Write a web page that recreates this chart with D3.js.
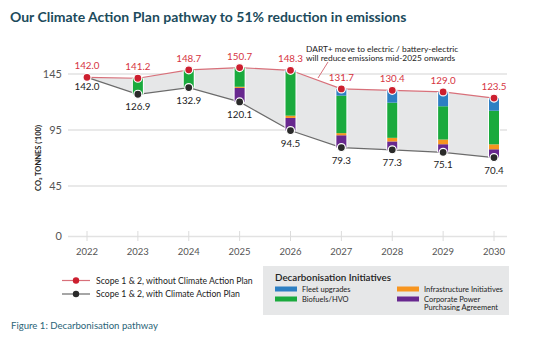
<!DOCTYPE html>
<html><head><meta charset="utf-8">
<script src="https://cdn.jsdelivr.net/npm/d3@7"></script>
<style>body{margin:0;background:#fff}svg{display:block}text{font-family:Lato, "Open Sans", sans-serif}</style>
</head><body>
<svg id="c" width="554" height="345"></svg>
<script>
const years = ["2022","2023","2024","2025","2026","2027","2028","2029","2030"];
const withoutPlan = [142.0,141.2,148.7,150.7,148.3,131.7,130.4,129.0,123.5];
const withPlan = [142.0,126.9,132.9,120.1,94.5,79.3,77.3,75.1,70.4];
// stacked segments from bottom (withPlan) up
const corporatePPA = [0,0,0,12.5,11.3,11.0,7.5,7.2,7.4];
const infrastructure = [0,0,0,1.0,2.0,1.9,3.2,4.2,4.4];
const biofuels = [0,14.3,15.8,17.1,39.0,33.5,31.4,29.7,30.0];
const fleet = [0,0,0,0,1.5,6.0,11.0,12.8,11.3];
const yTicks = [0,45,95,145];
const seriesNames = ["Corporate Power Purchasing Agreement","Infrastructure Initiatives","Biofuels/HVO","Fleet upgrades"];
const colors = {"Fleet upgrades":"#2d7fc3","Biofuels/HVO":"#1aaa3d","Infrastructure Initiatives":"#f7951f","Corporate Power Purchasing Agreement":"#68288f"};

const svg = d3.select("#c");
const x = d3.scalePoint().domain(years).range([87,494]);
const y = d3.scaleLinear().domain([0,145]).range([236.4,74]);

// title
svg.append("text").attr("x",10).attr("y",22).attr("font-size",14).attr("font-weight",700)
  .attr("fill","#1c4b5c").text("Our Climate Action Plan pathway to 51% reduction in emissions");

// gridlines
const g = svg.append("g");
g.selectAll("line.grid").data(yTicks).join("line")
  .attr("x1",68).attr("x2",507).attr("y1",d=>y(d)).attr("y2",d=>y(d))
  .attr("stroke","#e2e2e2").attr("stroke-width",1.5);
g.selectAll("text.yt").data(yTicks).join("text")
  .attr("x",62).attr("y",d=>y(d)+3.8).attr("text-anchor","end")
  .attr("font-size",11).attr("fill","#555").text(d=>d);
// x ticks
g.selectAll("line.xt").data(years).join("line")
  .attr("x1",d=>x(d)).attr("x2",d=>x(d)).attr("y1",231).attr("y2",241)
  .attr("stroke","#dcdcdc").attr("stroke-width",1);
g.selectAll("text.xl").data(years).join("text")
  .attr("x",d=>x(d)).attr("y",254.5).attr("text-anchor","middle")
  .attr("font-size",9.5).attr("fill","#555").text(d=>d);

// y label
svg.append("text").attr("transform","translate(41,158) rotate(-90)").attr("text-anchor","middle")
  .attr("font-size",7.5).attr("font-weight",700).attr("fill","#222")
  .text("CO\u2082 TONNES ('100)");

// area between
const idx = years.map((d,i)=>i);
const area = d3.area().x(i=>x(years[i])).y0(i=>y(withPlan[i])).y1(i=>y(withoutPlan[i]));
svg.append("path").datum(idx).attr("d",area).attr("fill","#e6e7e8");
const lineTop = d3.line().x(i=>x(years[i])).y(i=>y(withoutPlan[i]));
const lineBot = d3.line().x(i=>x(years[i])).y(i=>y(withPlan[i]));
svg.append("path").datum(idx).attr("d",lineBot).attr("fill","none").attr("stroke","#6b6b6b").attr("stroke-width",1.2);
svg.append("path").datum(idx).attr("d",lineTop).attr("fill","none").attr("stroke","#d8707a").attr("stroke-width",1.2);

// stacked bars
const segs = [corporatePPA, infrastructure, biofuels, fleet];
const bw = 10;
years.forEach((yr,i)=>{
  if(i===0) return;
  let base = withPlan[i];
  const bg = svg.append("g");
  bg.append("rect").attr("x",x(yr)-bw/2-1).attr("width",bw+2)
    .attr("y",y(withoutPlan[i])).attr("height",y(withPlan[i])-y(withoutPlan[i])).attr("fill","#fff");
  segs.forEach((arr,k)=>{
    const v = arr[i];
    if(v<=0) return;
    bg.append("rect").attr("x",x(yr)-bw/2).attr("width",bw)
      .attr("y",y(base+v)).attr("height",y(base)-y(base+v)).attr("fill",colors[seriesNames[k]]);
    base += v;
  });
});

// points
svg.selectAll("circle.top").data(idx).join("circle")
  .attr("cx",i=>x(years[i])).attr("cy",i=>y(withoutPlan[i])).attr("r",4)
  .attr("fill","#cc1f2f").attr("stroke","#fff").attr("stroke-width",1.2);
svg.selectAll("circle.bot").data(idx.slice(1)).join("circle")
  .attr("cx",i=>x(years[i])).attr("cy",i=>y(withPlan[i])).attr("r",4)
  .attr("fill","#2a2a2a").attr("stroke","#fff").attr("stroke-width",1.2);

// labels
svg.selectAll("text.tl").data(idx).join("text")
  .attr("x",i=>x(years[i])).attr("y",i=>y(withoutPlan[i])-8).attr("text-anchor","middle")
  .attr("font-size",9.8).attr("fill","#d6343f").text(i=>withoutPlan[i].toFixed(1));
svg.selectAll("text.bl").data(idx).join("text")
  .attr("x",i=>x(years[i])).attr("y",i=>y(withPlan[i])+(i===0?13:16)).attr("text-anchor","middle")
  .attr("font-size",9.8).attr("fill","#222").text(i=>withPlan[i].toFixed(1));

// annotation
svg.append("line").attr("x1",318).attr("y1",78).attr("x2",328).attr("y2",62).attr("stroke","#d8707a").attr("stroke-width",1);
const ann = svg.append("text").attr("font-size",8.4).attr("fill","#222");
ann.append("tspan").attr("x",306).attr("y",52).text("DART+ move to electric / battery-electric");
ann.append("tspan").attr("x",306).attr("y",61).text("will reduce emissions mid-2025 onwards");

// left legend
const leg = [{name:"Scope 1 & 2, without Climate Action Plan",c:"#cc1f2f",lc:"#d8707a"},{name:"Scope 1 & 2, with Climate Action Plan",c:"#2a2a2a",lc:"#6b6b6b"}];
leg.forEach((l,i)=>{
  const yy = 280.5 + i*13.5;
  svg.append("line").attr("x1",62).attr("x2",90).attr("y1",yy).attr("y2",yy).attr("stroke",l.lc).attr("stroke-width",1.2);
  svg.append("circle").attr("cx",76).attr("cy",yy).attr("r",3.2).attr("fill",l.c);
  svg.append("text").attr("x",96).attr("y",yy+3).attr("font-size",8.7).attr("fill","#222").text(l.name);
});

// right legend box
svg.append("rect").attr("x",263).attr("y",266).attr("width",246).attr("height",49).attr("fill","#e6e7e8");
svg.append("text").attr("x",275).attr("y",281).attr("font-size",9.8).attr("font-weight",600).attr("fill","#222").text("Decarbonisation Initiatives");
const items = [
  {n:"Fleet upgrades",x:275,y:289},
  {n:"Biofuels/HVO",x:275,y:299},
  {n:"Infrastructure Initiatives",x:397,y:289},
  {n:"Corporate Power Purchasing Agreement",x:397,y:299,lines:["Corporate Power","Purchasing Agreement"]}
];
items.forEach(it=>{
  svg.append("rect").attr("x",it.x).attr("y",it.y-2.5).attr("width",22).attr("height",5).attr("fill",colors[it.n]);
  const t = svg.append("text").attr("font-size",7.5).attr("fill","#222");
  (it.lines||[it.n]).forEach((s,j)=>t.append("tspan").attr("x",it.x+27).attr("y",it.y+2.7+j*8.5).text(s));
});

// caption
svg.append("text").attr("x",11).attr("y",329).attr("font-size",9.6).attr("fill","#2b6477").text("Figure 1: Decarbonisation pathway");
</script>
</body></html>
